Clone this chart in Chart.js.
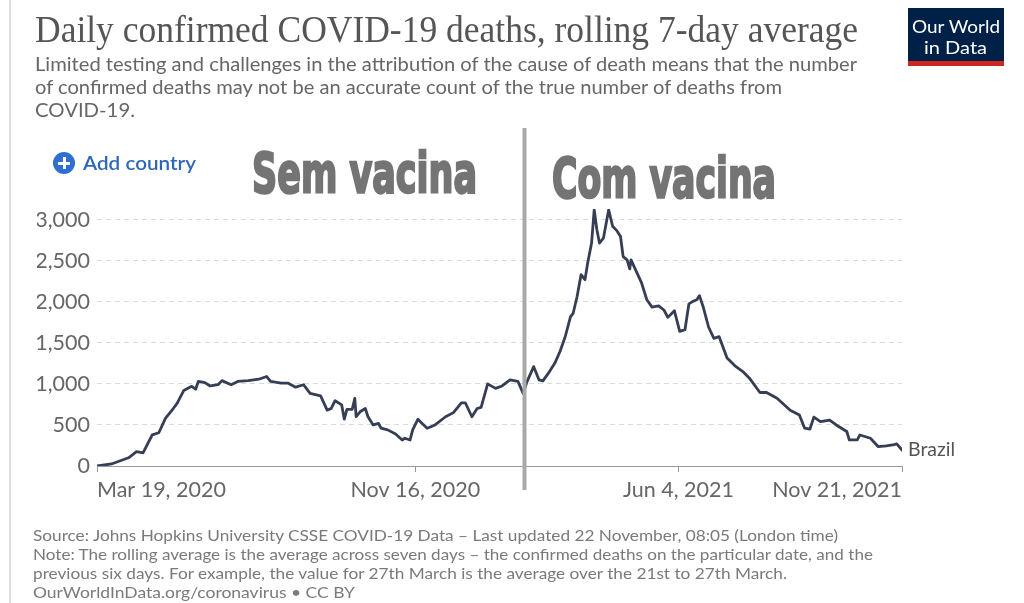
<!DOCTYPE html>
<html>
<head>
<meta charset="utf-8">
<script src="https://cdn.jsdelivr.net/npm/chart.js@4.4.0/dist/chart.umd.min.js"></script>
<style>
  html, body { margin:0; padding:0; background:#fff; }
  body { width:1024px; height:603px; position:relative; overflow:hidden; font-family:Lato, "Noto Sans", sans-serif; }
  #c { position:absolute; left:0; top:0; }
  .t { position:absolute; white-space:nowrap; transform-origin:0 0; }
  #frame { position:absolute; left:9px; top:0; width:1.5px; height:603px; background:#dcdcdc; }
  #title { left:35px; top:11px; font-family:"Liberation Serif", serif; font-size:37px; line-height:37px; color:#555; }
  .sub { left:35px; font-size:19.5px; line-height:23px; color:#666; }
  .foot { left:33px; font-size:16px; line-height:19px; color:#7a7a7a; }
  #logo { position:absolute; left:908px; top:8px; width:96px; height:53px; background:#002147; border-bottom:5px solid #ce261e; }
  .lg { position:absolute; color:#fff; font-size:18px; line-height:20px; white-space:nowrap; transform-origin:0 0; }
  #plus { position:absolute; left:53px; top:152px; width:22px; height:22px; border-radius:50%; background:#2f6fd0; }
  #plus:before { content:""; position:absolute; left:5px; top:9.5px; width:12px; height:3px; background:#fff; }
  #plus:after { content:""; position:absolute; left:9.5px; top:5px; width:3px; height:12px; background:#fff; }
  #add { left:83px; top:152px; font-size:19px; line-height:22px; font-weight:600; color:#2f67b8; }
  .big { font-family:"DejaVu Sans", sans-serif; font-weight:bold; font-size:55px; line-height:55px; color:#747474; -webkit-text-stroke:2.5px #747474; }
</style>
</head>
<body>
<div id="frame"></div>
<canvas id="c" width="1024" height="603"></canvas>
<div class="t" id="title" data-w="823">Daily confirmed COVID-19 deaths, rolling 7-day average</div>
<div class="t sub" style="top:52px" data-w="822">Limited testing and challenges in the attribution of the cause of death means that the number</div>
<div class="t sub" style="top:75px" data-w="747">of confirmed deaths may not be an accurate count of the true number of deaths from</div>
<div class="t sub" style="top:98px" data-w="100">COVID-19.</div>
<div id="logo"></div>
<div class="lg" style="left:912px; top:16px" data-w="88">Our World</div>
<div class="lg" style="left:924px; top:37px" data-w="63">in Data</div>
<div id="plus"></div>
<div class="t" id="add" data-w="113">Add country</div>
<div class="t big" style="left:252px; top:146px" data-w="225">Sem vacina</div>
<div class="t big" style="left:552px; top:151px" data-w="224">Com vacina</div>
<div class="t foot" style="top:525px" data-w="805">Source: Johns Hopkins University CSSE COVID-19 Data – Last updated 22 November, 08:05 (London time)</div>
<div class="t foot" style="top:544px" data-w="840">Note: The rolling average is the average across seven days – the confirmed deaths on the particular date, and the</div>
<div class="t foot" style="top:563px" data-w="754">previous six days. For example, the value for 27th March is the average over the 21st to 27th March.</div>
<div class="t foot" style="top:582px" data-w="322">OurWorldInData.org/coronavirus • CC BY</div>
<script>
// ---- data ----
const seriesName = 'Brazil';
const dates = ['2020-03-19','2020-03-30',
'2020-04-12','2020-04-18','2020-04-23','2020-04-30',
'2020-05-05','2020-05-10','2020-05-16','2020-05-19','2020-05-24','2020-05-30',
'2020-06-02','2020-06-04','2020-06-09','2020-06-13','2020-06-19','2020-06-22','2020-06-29',
'2020-07-04','2020-07-12','2020-07-20','2020-07-26','2020-07-29',
'2020-08-06','2020-08-11','2020-08-17','2020-08-23','2020-08-28',
'2020-09-05','2020-09-10','2020-09-13','2020-09-16','2020-09-21','2020-09-23','2020-09-25','2020-09-29',
'2020-10-01','2020-10-02','2020-10-05','2020-10-09','2020-10-11','2020-10-15','2020-10-19','2020-10-21','2020-10-26',
'2020-11-01','2020-11-06','2020-11-08','2020-11-12','2020-11-14','2020-11-18','2020-11-21','2020-11-25',
'2020-12-01','2020-12-09','2020-12-15','2020-12-21','2020-12-24','2020-12-29',
'2021-01-02','2021-01-05','2021-01-10','2021-01-16','2021-01-21','2021-01-27',
'2021-02-02','2021-02-06','2021-02-09','2021-02-14','2021-02-16','2021-02-18','2021-02-21','2021-02-26',
'2021-03-02','2021-03-06','2021-03-10','2021-03-14','2021-03-16','2021-03-19','2021-03-22','2021-03-25','2021-03-27','2021-03-30',
'2021-04-01','2021-04-03','2021-04-05','2021-04-08','2021-04-12','2021-04-15','2021-04-18','2021-04-21','2021-04-23','2021-04-26','2021-04-28','2021-04-29',
'2021-05-03','2021-05-07','2021-05-11','2021-05-15','2021-05-20','2021-05-24','2021-05-27',
'2021-06-01','2021-06-05','2021-06-09','2021-06-12','2021-06-15','2021-06-18','2021-06-20','2021-06-23','2021-06-27',
'2021-07-01','2021-07-05','2021-07-11','2021-07-17','2021-07-23','2021-07-28',
'2021-08-05','2021-08-10','2021-08-18','2021-08-28',
'2021-09-04','2021-09-08','2021-09-12','2021-09-15','2021-09-20','2021-09-27',
'2021-10-02','2021-10-10','2021-10-12','2021-10-18','2021-10-20','2021-10-28',
'2021-11-03','2021-11-09','2021-11-14','2021-11-17','2021-11-21'];
const deaths = [0,25,
100,175,160,380,
405,580,700,765,920,970,
935,1030,1015,975,990,1040,990,
1030,1040,1057,1090,1030,
1010,1010,960,990,885,
855,680,700,795,745,570,690,690,
825,600,660,700,600,500,520,460,440,
390,317,338,317,440,570,520,460,
500,600,650,770,770,600,
700,715,1000,945,975,1050,
1030,885,1030,1210,1130,1050,1037,1150,
1250,1395,1577,1820,1860,2065,2330,2270,2470,2715,
3120,2880,2715,2775,3120,2920,2870,2795,2550,2510,2400,2510,
2370,2230,2025,1935,1950,1900,1810,
1890,1640,1660,1975,2005,2025,2075,1930,1690,
1555,1575,1315,1220,1150,1070,
895,895,825,680,
620,460,450,595,540,560,
500,420,317,317,378,338,
235,245,256,270,195];
const xTickDates = ['2020-03-19','2020-11-16','2021-06-04','2021-11-21'];
const xTickLabels = ['Mar 19, 2020','Nov 16, 2020','Jun 4, 2021','Nov 21, 2021'];
const yTicks = [0,500,1000,1500,2000,2500,3000];
const dividerDate = '2021-02-07';

// ---- helpers ----
const startDate = dates[0];
const dayOf = d => Math.round((Date.parse(d) - Date.parse(startDate)) / 86400000);
const xTickValues = xTickDates.map(dayOf);

const dividerPlugin = {
  id:'divider',
  afterDatasetsDraw(chart){
    const c = chart.ctx;
    const x = chart.scales.x.getPixelForValue(dayOf(dividerDate));
    c.save();
    c.strokeStyle = '#a9a9a9';
    c.lineWidth = 4;
    c.beginPath(); c.moveTo(x, 128); c.lineTo(x, 490); c.stroke();
    c.restore();
  }
};
const endLabelPlugin = {
  id:'endLabel',
  afterDatasetsDraw(chart){
    const c = chart.ctx;
    const meta = chart.getDatasetMeta(0);
    const p = meta.data[meta.data.length-1];
    c.save();
    c.fillStyle = '#555';
    c.font = '19.5px Lato';
    c.textBaseline = 'middle';
    c.fillText(chart.data.datasets[0].label, p.x + 6, p.y);
    c.restore();
  }
};

new Chart(document.getElementById('c'), {
  type:'line',
  data:{ datasets:[{
    label: seriesName,
    data: dates.map((d,i)=>({x:dayOf(d), y:deaths[i]})),
    borderColor:'#363e55', borderWidth:2.8, pointRadius:0, tension:0,
    borderJoinStyle:'round', borderCapStyle:'round'
  }]},
  options:{
    responsive:false, animation:false,
    layout:{ padding:{ left:37, right:122, top:209, bottom:97 } },
    plugins:{ legend:{display:false}, tooltip:{enabled:false} },
    scales:{
      x:{
        type:'linear', min:0, max:dayOf(xTickDates[xTickDates.length-1]),
        afterBuildTicks: s => { s.ticks = xTickValues.map(v=>({value:v})); },
        afterFit: s => { s.height = 40; },
        ticks:{ autoSkip:false, maxRotation:0, minRotation:0, align:'inner',
          callback: v => xTickLabels[xTickValues.indexOf(v)] ?? '',
          color:'#666', font:{family:'Lato', size:21.5}, padding:5 },
        grid:{ drawOnChartArea:false, drawTicks:true, tickLength:6, color:'#999' },
        border:{ display:true, color:'#999', width:1 }
      },
      y:{
        min:0, max:3130,
        afterBuildTicks: s => { s.ticks = yTicks.map(v=>({value:v})); },
        afterFit: s => { s.width = 60; },
        ticks:{ callback: v => v.toLocaleString('en-US'), color:'#666', font:{family:'Lato', size:21.5}, padding:7 },
        grid:{ drawTicks:false, color: c => (c.tick && c.tick.value === 0) ? 'rgba(0,0,0,0)' : '#dadada' },
        border:{ display:false, dash:[5,4] }
      }
    }
  },
  plugins:[dividerPlugin, endLabelPlugin]
});

// fit text widths
document.querySelectorAll('[data-w]').forEach(el => {
  const w = el.getBoundingClientRect().width;
  el.style.transform = 'scaleX(' + (parseFloat(el.dataset.w) / w) + ')';
});
</script>
</body>
</html>
